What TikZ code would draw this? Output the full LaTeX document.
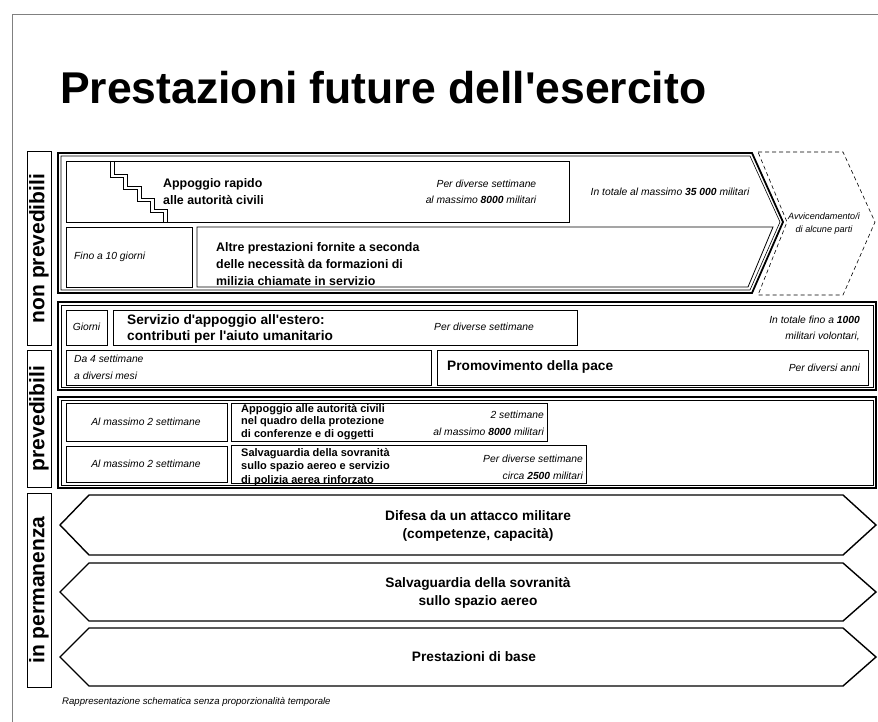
\documentclass[tikz,border=0pt]{standalone}
\usepackage{fontspec}
\setmainfont{Liberation Sans}
\newcommand{\apo}{\textquotesingle}

\begin{document}
\begin{tikzpicture}[x=1pt, y=-1pt,
    every node/.style={inner sep=0pt},
    box/.style={draw, line width=0.8pt},
    frame/.style={draw, line width=1.8pt},
    thin/.style={draw, line width=0.6pt},
    chev/.style={draw, line width=1.4pt},
    head/.style={font=\bfseries\fontsize{12.4}{17}\selectfont, align=left},
    big/.style={font=\bfseries\fontsize{13.7}{16}\selectfont, align=left},
    small/.style={font=\bfseries\fontsize{11}{12.5}\selectfont, align=left},
    note/.style={font=\itshape\fontsize{10.3}{16}\selectfont},
    side/.style={draw, line width=1pt, rotate=90, minimum height=24pt, font=\bfseries\fontsize{21}{21}\selectfont}]
    \useasboundingbox (0,0) rectangle (878,722);

    % page
    \draw[line width=0.6pt, gray] (12,722) -- (12,14) -- (878,14);
    \node[anchor=base west, font=\bfseries\fontsize{44.5}{50}\selectfont] (title) at (60,104) {Prestazioni future dell\apo esercito};

    % side labels
    \node[side, minimum width=193pt] (np) at (39,248.5) {non prevedibili};
    \node[side, minimum width=137pt] (pr) at (39,418.5) {prevedibili};
    \node[side, minimum width=194pt] (ip) at (39,590) {in permanenza};

    % non prevedibili
    \draw[frame] (58,153) -- (752,153) -- (783,222) -- (752,293) -- (58,293) -- cycle;
    \draw[thin] (61,156) -- (750,156) -- (780,222) -- (750,290) -- (61,290) -- cycle;
    \draw[box] (66,161) rectangle (569,222);
    \draw[box] (110,161) |- (123,177) |- (137,189) |- (150,201) |- (163,212) -- (163,222);
    \draw[box] (114,161) |- (127,174) |- (141,186) |- (154,198) |- (167,209) -- (167,222);
    \node[head, anchor=west] (ar) at (163,192) {Appoggio rapido\\alle autorità civili};
    \node[note, align=right] (ar-t) at (481,192) {Per diverse settimane\\al massimo \textbf{8000} militari};
    \node[note] (tot) at (670,192) {In totale al massimo \textbf{35 000} militari};
    \draw[box] (66,227) rectangle (192,287);
    \node[note, anchor=west] (f10) at (74,257) {Fino a 10 giorni};
    \draw[box] (197,227) -- (773,227) -- (748,287) -- (197,287) -- cycle;
    \node[head, anchor=west] (alt) at (216,264) {Altre prestazioni fornite a seconda\\delle necessità da formazioni di\\milizia chiamate in servizio};
    \draw[thin, dash pattern=on 4pt off 3pt] (758,152) -- (843,152) -- (875,222) -- (843,295) -- (758,295) -- (787,222) -- cycle;
    \node[note, align=center, font=\itshape\fontsize{9.1}{13}\selectfont] (av) at (824,224) {Avvicendamento/i\\di alcune parti};

    % prevedibili, estero
    \draw[frame] (58,302) rectangle (876,390);
    \draw[thin] (61,305) rectangle (873,387);
    \draw[box] (66,310) rectangle (107,345);
    \node[note] (gi) at (86.5,327) {Giorni};
    \draw[box] (113,310) rectangle (577,345);
    \node[big, anchor=west] (se) at (127,329) {Servizio d\apo appoggio all\apo estero:\\contributi per l\apo aiuto umanitario};
    \node[note] (se-t) at (484,327) {Per diverse settimane};
    \node[note, align=right, anchor=east] (vol) at (860,328) {In totale fino a \textbf{1000}\\militari volontari,};
    \draw[box] (66,350) rectangle (431,385);
    \node[note, align=left, anchor=west, font=\itshape\fontsize{10.3}{17}\selectfont] (d4) at (74,367) {Da 4 settimane\\a diversi mesi};
    \draw[box] (437,350) rectangle (868,385);
    \node[big, anchor=west] (pp) at (447,367) {Promovimento della pace};
    \node[note, anchor=east] (pp-t) at (860,368) {Per diversi anni};

    % prevedibili, interno
    \draw[frame] (58,397) rectangle (876,488);
    \draw[thin] (61,400) rectangle (873,485);
    \draw[box] (66,403) rectangle (227,441);
    \node[note] (m1) at (146,422) {Al massimo 2 settimane};
    \draw[box] (231,403) rectangle (547,441);
    \node[small, anchor=west] (ac) at (241,422) {Appoggio alle autorità civili\\nel quadro della protezione\\di conferenze e di oggetti};
    \node[note, align=right, anchor=east, font=\itshape\fontsize{10.3}{17}\selectfont] (ac-t) at (544,423) {2 settimane\\al massimo \textbf{8000} militari};
    \draw[box] (66,446) rectangle (227,482);
    \node[note] (m2) at (146,464) {Al massimo 2 settimane};
    \draw[box] (231,445) rectangle (586,483);
    \node[small, anchor=west, font=\bfseries\fontsize{11}{13.5}\selectfont] (sv) at (241,467) {Salvaguardia della sovranità\\sullo spazio aereo e servizio\\di polizia aerea rinforzato};
    \node[note, align=right, anchor=east, font=\itshape\fontsize{10.3}{17}\selectfont] (sv-t) at (583,467) {Per diverse settimane\\circa \textbf{2500} militari};

    % in permanenza
    \draw[chev] (60,525) -- (89,495) -- (843,495) -- (876,525) -- (843,555) -- (89,555) -- cycle;
    \draw[chev] (60,592) -- (89,563) -- (843,563) -- (876,592) -- (843,621) -- (89,621) -- cycle;
    \draw[chev] (60,657) -- (89,628) -- (843,628) -- (876,657) -- (843,686) -- (89,686) -- cycle;
    \node[align=center, font=\bfseries\fontsize{13.7}{18}\selectfont] (dif) at (478,526) {Difesa da un attacco militare\\(competenze, capacità)};
    \node[align=center, font=\bfseries\fontsize{13.7}{18}\selectfont] (sal) at (478,593) {Salvaguardia della sovranità\\sullo spazio aereo};
    \node[font=\bfseries\fontsize{13.7}{18}\selectfont] (bas) at (474,657) {Prestazioni di base};

    \node[anchor=west, font=\itshape\fontsize{9.6}{10}\selectfont] (fn) at (62,702) {Rappresentazione schematica senza proporzionalità temporale};
\end{tikzpicture}
\end{document}
